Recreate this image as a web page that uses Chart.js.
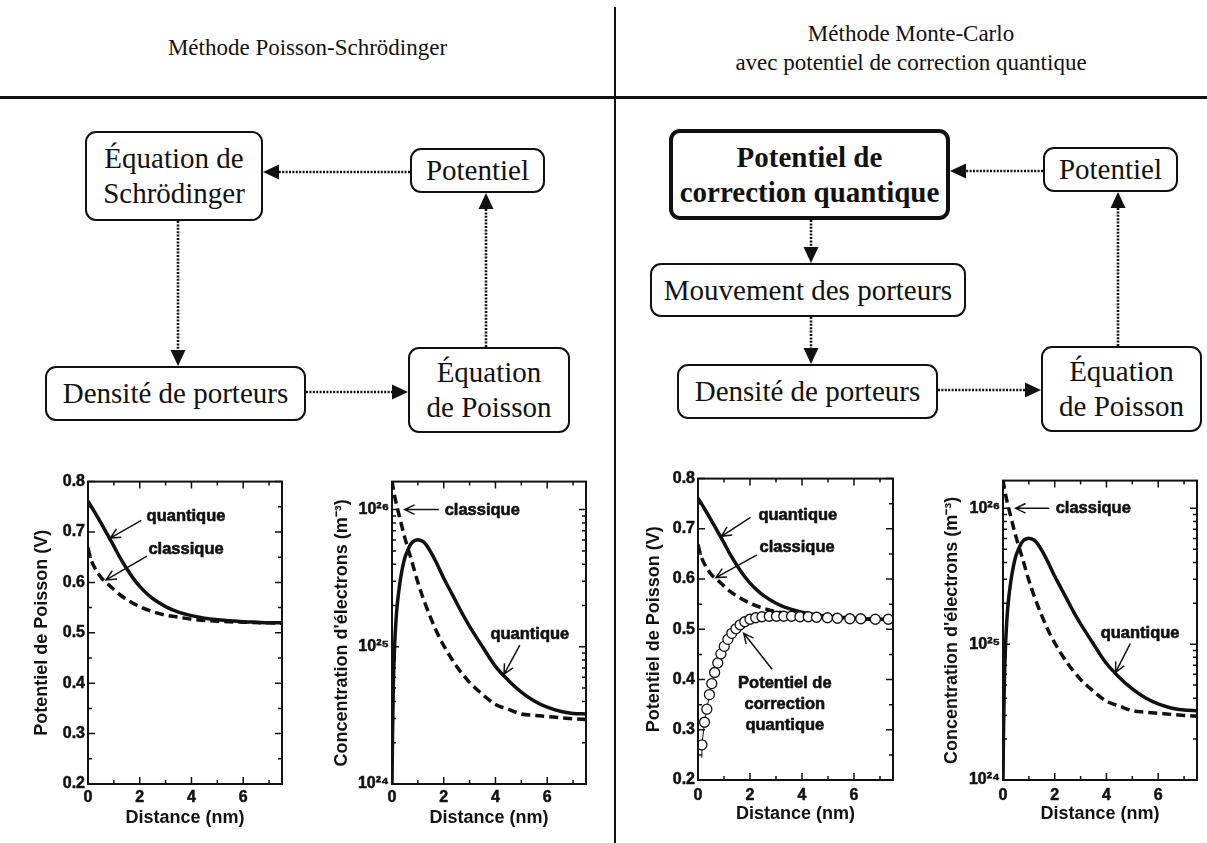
<!DOCTYPE html>
<html lang="fr">
<head>
<meta charset="UTF-8">
<title>Poisson-Schrödinger / Monte-Carlo</title>
<script src="https://cdn.jsdelivr.net/npm/chart.js"></script>
<style>
    * { margin: 0; padding: 0; box-sizing: border-box; }

    body {
        width: 1207px;
        height: 843px;
        position: relative;
        overflow: hidden;
        background: #fff;
        color: #111;
        font-family: 'Liberation Serif', 'Times New Roman', serif;
    }

    /* header */
    .title {
        position: absolute;
        font-size: 23px;
        line-height: 29px;
        text-align: center;
    }
    .hline { position: absolute; left: 0; top: 96px; width: 1207px; height: 3px; background: #111; }
    .vline { position: absolute; left: 614px; top: 7px; width: 2px; height: 836px; background: #111; }

    /* flowchart boxes */
    .box {
        position: absolute;
        display: flex;
        align-items: center;
        justify-content: center;
        text-align: center;
        border: 2px solid #111;
        border-radius: 11px;
        font-size: 29px;
        line-height: 35px;
        background: #fff;
    }
    .box.bold { border-width: 4px; font-weight: bold; }

    #arrows { position: absolute; left: 0; top: 0; }
    .chart { position: absolute; }
</style>
</head>
<body>
    <div class="vline"></div>
    <div class="hline"></div>

    <div class="title" style="left:0; width:615px; top:33px;">Méthode Poisson-Schrödinger</div>
    <div class="title" style="left:615px; width:592px; top:19px;">Méthode Monte-Carlo<br>avec potentiel de correction quantique</div>

    <!-- left flowchart -->
    <div class="box" style="left:85px; top:131px; width:178px; height:90px;">Équation de<br>Schrödinger</div>
    <div class="box" style="left:410px; top:148px; width:135px; height:45px;">Potentiel</div>
    <div class="box" style="left:45px; top:366px; width:261px; height:55px;">Densité de porteurs</div>
    <div class="box" style="left:408px; top:347px; width:162px; height:86px;">Équation<br>de Poisson</div>

    <!-- right flowchart -->
    <div class="box bold" style="left:669px; top:129px; width:281px; height:91px;">Potentiel de<br>correction quantique</div>
    <div class="box" style="left:1043px; top:147px; width:135px; height:45px;">Potentiel</div>
    <div class="box" style="left:650px; top:263px; width:316px; height:54px;">Mouvement des porteurs</div>
    <div class="box" style="left:677px; top:364px; width:261px; height:55px;">Densité de porteurs</div>
    <div class="box" style="left:1041px; top:346px; width:161px; height:86px;">Équation<br>de Poisson</div>

    <svg id="arrows" width="1207" height="843"></svg>

    <div class="chart" style="left:20px; top:469px;"><canvas id="c1" width="272" height="374"></canvas></div>
    <div class="chart" style="left:320px; top:469px;"><canvas id="c2" width="278" height="374"></canvas></div>
    <div class="chart" style="left:632px; top:466px;"><canvas id="c3" width="271" height="377"></canvas></div>
    <div class="chart" style="left:930px; top:468px;"><canvas id="c4" width="277" height="375"></canvas></div>

<script>
// ---- data ----
// Poisson potential (V) vs distance (nm)
const xQuant = [0, 0.25, 0.5, 0.75, 1.0, 1.25, 1.5, 1.75, 2.0, 2.25, 2.5, 3.0, 3.5, 4.0, 4.5, 5.0, 5.5, 6.0, 6.5, 7.0, 7.5];
const vQuant = [0.761, 0.740, 0.718, 0.695, 0.672, 0.648, 0.627, 0.608, 0.592, 0.579, 0.568, 0.552, 0.541, 0.534, 0.529, 0.526, 0.524, 0.522, 0.521, 0.520, 0.520];

const xClass = [0, 0.1, 0.25, 0.5, 0.75, 1.0, 1.25, 1.5, 2.0, 2.5, 3.0, 3.5, 4.0, 5.0, 6.0, 7.5];
const vClass = [0.669, 0.648, 0.630, 0.610, 0.598, 0.586, 0.575, 0.566, 0.552, 0.542, 0.535, 0.531, 0.527, 0.523, 0.521, 0.519];

// quantum correction potential (Monte-Carlo, circles)
const xCorr = [0.13, 0.15, 0.25, 0.34, 0.44, 0.53, 0.64, 0.76, 0.88, 1.01, 1.15, 1.30, 1.46, 1.62, 1.80, 2.00, 2.22, 2.46, 2.74, 3.02, 3.30, 3.60, 3.92, 4.24, 4.56, 4.98, 5.36, 5.84, 6.26, 6.82, 7.32];
const vCorr = [0.245, 0.270, 0.315, 0.341, 0.370, 0.392, 0.414, 0.433, 0.451, 0.466, 0.480, 0.492, 0.501, 0.509, 0.515, 0.520, 0.523, 0.525, 0.526, 0.526, 0.526, 0.526, 0.525, 0.525, 0.524, 0.523, 0.522, 0.521, 0.521, 0.520, 0.520];

// electron concentration (m^-3) vs distance (nm)
const xNQuant = [0, 0.02, 0.05, 0.1, 0.15, 0.2, 0.3, 0.4, 0.5, 0.6, 0.7, 0.8, 0.9, 1.0, 1.1, 1.25, 1.5, 1.75, 2.0, 2.25, 2.5, 2.75, 3.0, 3.5, 4.0, 4.5, 5.0, 5.5, 6.0, 6.5, 7.0, 7.5];
const nQuant = [1.0e24, 2.24e24, 5.0e24, 1.0e25, 1.51e25, 2.0e25, 2.88e25, 3.72e25, 4.47e25, 5.0e25, 5.5e25, 5.82e25, 5.96e25, 6.03e25, 5.96e25, 5.75e25, 4.9e25, 3.98e25, 3.16e25, 2.57e25, 2.09e25, 1.70e25, 1.41e25, 1.0e25, 7.2e24, 5.69e24, 4.68e24, 4.03e24, 3.63e24, 3.39e24, 3.27e24, 3.24e24];

const xNClass = [0, 0.1, 0.25, 0.5, 0.75, 1.0, 1.25, 1.5, 1.75, 2.0, 2.5, 3.0, 3.5, 4.0, 4.5, 5.0, 5.5, 6.0, 7.0, 7.5];
const nClass = [1.62e26, 1.26e26, 9.5e25, 6.2e25, 4.3e25, 2.95e25, 2.14e25, 1.62e25, 1.26e25, 1.02e25, 7.2e24, 5.5e24, 4.5e24, 3.8e24, 3.5e24, 3.24e24, 3.16e24, 3.1e24, 2.99e24, 2.95e24];

// ticks
const xTicks = [0, 2, 4, 6];
const xMinor = [1, 3, 5, 7];
const vTicks = [0.2, 0.3, 0.4, 0.5, 0.6, 0.7, 0.8];
const vMinor = [0.25, 0.35, 0.45, 0.55, 0.65, 0.75];
const nTicks = [1e24, 1e25, 1e26];
const nMinor = [2e24, 3e24, 4e24, 5e24, 6e24, 7e24, 8e24, 9e24, 2e25, 3e25, 4e25, 5e25, 6e25, 7e25, 8e25, 9e25];

// ---- flowchart arrows (dotted, filled head) ----
const svg = document.getElementById('arrows');
function flowArrow(x1, y1, x2, y2) {
    const ns = 'http://www.w3.org/2000/svg';
    const len = Math.hypot(x2 - x1, y2 - y1);
    const ux = (x2 - x1) / len, uy = (y2 - y1) / len;
    const hl = 16, hw = 7.5;
    const bx = x2 - ux * hl, by = y2 - uy * hl;
    const line = document.createElementNS(ns, 'line');
    line.setAttribute('x1', x1); line.setAttribute('y1', y1);
    line.setAttribute('x2', bx); line.setAttribute('y2', by);
    line.setAttribute('stroke', '#111');
    line.setAttribute('stroke-width', '2.6');
    line.setAttribute('stroke-dasharray', '2 1.4');
    svg.appendChild(line);
    const head = document.createElementNS(ns, 'polygon');
    head.setAttribute('points', [x2, y2, bx - uy * hw, by + ux * hw, bx + uy * hw, by - ux * hw].join(' '));
    head.setAttribute('fill', '#111');
    svg.appendChild(head);
}
flowArrow(410, 172, 263, 172);
flowArrow(178, 221, 178, 366);
flowArrow(306, 392, 408, 392);
flowArrow(486, 347, 486, 193);

flowArrow(1043, 171, 950, 171);
flowArrow(811, 220, 811, 263);
flowArrow(811, 317, 811, 364);
flowArrow(938, 390, 1041, 390);
flowArrow(1118, 346, 1118, 192);

// ---- charts ----
const SANS = "'Liberation Sans', Arial, sans-serif";
const sup = { '0': '⁰', '1': '¹', '2': '²', '3': '³', '4': '⁴', '5': '⁵', '6': '⁶', '7': '⁷', '8': '⁸', '9': '⁹' };
const pts = (xs, ys) => xs.map((x, i) => ({ x: x, y: ys[i] }));

// frame with inward ticks on all four sides
const framePlugin = {
    id: 'frame',
    afterDatasetsDraw(chart, args, opts) {
        const { ctx, chartArea: a, scales: { x, y } } = chart;
        ctx.save();
        ctx.strokeStyle = '#111';
        ctx.lineWidth = 1.5;
        ctx.beginPath();
        const vt = (v, l) => {
            const p = x.getPixelForValue(v);
            ctx.moveTo(p, a.bottom); ctx.lineTo(p, a.bottom - l);
            ctx.moveTo(p, a.top); ctx.lineTo(p, a.top + l);
        };
        const ht = (v, l) => {
            const p = y.getPixelForValue(v);
            ctx.moveTo(a.left, p); ctx.lineTo(a.left + l, p);
            ctx.moveTo(a.right, p); ctx.lineTo(a.right - l, p);
        };
        opts.xMajor.forEach(v => vt(v, 7));
        opts.xMinor.forEach(v => vt(v, 4));
        opts.yMajor.forEach(v => ht(v, 7));
        opts.yMinor.forEach(v => ht(v, 4));
        ctx.stroke();
        ctx.lineWidth = 2;
        ctx.strokeRect(a.left, a.top, a.right - a.left, a.bottom - a.top);
        ctx.restore();
    }
};

// text labels + thin open arrows
const notePlugin = {
    id: 'notes',
    afterDatasetsDraw(chart, args, opts) {
        const { ctx, scales: { x, y } } = chart;
        ctx.save();
        ctx.fillStyle = '#111';
        ctx.strokeStyle = '#111';
        ctx.font = 'bold 16.5px ' + SANS;
        ctx.textAlign = 'center';
        ctx.textBaseline = 'middle';
        ctx.lineWidth = 0.6;
        (opts.notes || []).forEach(n => {
            const cx = x.getPixelForValue(n.x), cy = y.getPixelForValue(n.y);
            const off = (n.lines.length - 1) * 21 / 2;
            n.lines.forEach((t, i) => {
                ctx.fillText(t, cx, cy - off + i * 21);
                ctx.strokeText(t, cx, cy - off + i * 21);
            });
        });
        ctx.lineWidth = 1.5;
        (opts.arrows || []).forEach(ar => {
            const x1 = x.getPixelForValue(ar.from[0]), y1 = y.getPixelForValue(ar.from[1]);
            const x2 = x.getPixelForValue(ar.to[0]), y2 = y.getPixelForValue(ar.to[1]);
            const ang = Math.atan2(y2 - y1, x2 - x1);
            ctx.beginPath();
            ctx.moveTo(x1, y1); ctx.lineTo(x2, y2);
            ctx.moveTo(x2 - 11 * Math.cos(ang - 0.45), y2 - 11 * Math.sin(ang - 0.45));
            ctx.lineTo(x2, y2);
            ctx.lineTo(x2 - 11 * Math.cos(ang + 0.45), y2 - 11 * Math.sin(ang + 0.45));
            ctx.stroke();
        });
        ctx.restore();
    }
};

function makeChart(id, o) {
    const isLog = o.log;
    return new Chart(document.getElementById(id), {
        type: 'scatter',
        data: { datasets: o.datasets },
        options: {
            responsive: false,
            animation: false,
            layout: { padding: { top: 10, right: o.right, left: 0, bottom: 0 } },
            plugins: {
                legend: { display: false },
                tooltip: { enabled: false },
                frame: {
                    xMajor: xTicks, xMinor: xMinor,
                    yMajor: isLog ? nTicks : vTicks, yMinor: isLog ? nMinor : vMinor
                },
                notes: { notes: o.notes, arrows: o.arrows }
            },
            scales: {
                x: {
                    type: 'linear', min: 0, max: 7.5,
                    grid: { display: false, drawTicks: false },
                    border: { display: false },
                    afterBuildTicks: s => { s.ticks = xTicks.map(v => ({ value: v })); },
                    afterFit: s => { s.height = o.xHeight; },
                    ticks: {
                        color: '#111', padding: o.xPad, maxRotation: 0,
                        textStrokeColor: '#111', textStrokeWidth: 0.5,
                        font: { family: SANS, size: 16, weight: 'bold' },
                        callback: v => String(v)
                    },
                    title: {
                        display: true, text: 'Distance (nm)', color: '#111',
                        font: { family: SANS, size: 18, weight: 'bold' },
                        padding: { top: 0, bottom: o.xTitlePad }
                    }
                },
                y: {
                    type: isLog ? 'logarithmic' : 'linear',
                    min: isLog ? 1e24 : 0.2,
                    max: isLog ? 1.6e26 : 0.8,
                    grid: { display: false, drawTicks: false },
                    border: { display: false },
                    afterBuildTicks: s => { s.ticks = (isLog ? nTicks : vTicks).map(v => ({ value: v })); },
                    afterFit: s => { s.width = o.yWidth; },
                    ticks: {
                        color: '#111', padding: 3,
                        textStrokeColor: '#111', textStrokeWidth: 0.5,
                        font: { family: SANS, size: 16, weight: 'bold' },
                        callback: v => isLog
                            ? '10' + String(Math.round(Math.log10(v))).split('').map(c => sup[c]).join('')
                            : v.toFixed(1)
                    },
                    title: {
                        display: true, color: '#111',
                        text: isLog ? "Concentration d'électrons (m⁻³)" : 'Potentiel de Poisson (V)',
                        font: { family: SANS, size: 18, weight: 'bold' },
                        padding: { top: 11, bottom: 0 }
                    }
                }
            }
        },
        plugins: [framePlugin, notePlugin]
    });
}

const lineStyle = { showLine: true, pointRadius: 0, borderColor: '#111', borderWidth: 3.5, cubicInterpolationMode: 'monotone', fill: false };

function potentialSets(withCorr) {
    const sets = [
        Object.assign({ label: 'quantique', data: pts(xQuant, vQuant), order: 2 }, lineStyle),
        Object.assign({ label: 'classique', data: pts(xClass, vClass), borderDash: [9, 5], order: 3 }, lineStyle)
    ];
    if (withCorr) {
        sets.push({
            label: 'Potentiel de correction quantique',
            data: pts(xCorr, vCorr),
            showLine: true, borderColor: '#111', borderWidth: 1,
            pointRadius: xCorr.map((_, i) => i === 0 ? 0 : 5),
            pointBackgroundColor: '#fff', pointBorderColor: '#111', pointBorderWidth: 1.3,
            order: 1
        });
    }
    return sets;
}

function concSets() {
    return [
        Object.assign({ label: 'quantique', data: pts(xNQuant, nQuant), order: 1 }, lineStyle),
        Object.assign({ label: 'classique', data: pts(xNClass, nClass), borderDash: [9, 5], order: 2 }, lineStyle)
    ];
}

makeChart('c1', {
    log: false, yWidth: 68, xHeight: 59, right: 10, xPad: 4, xTitlePad: 14,
    datasets: potentialSets(false),
    notes: [
        { lines: ['quantique'], x: 3.79, y: 0.730 },
        { lines: ['classique'], x: 3.79, y: 0.665 }
    ],
    arrows: [
        { from: [2.06, 0.723], to: [0.86, 0.688] },
        { from: [2.28, 0.652], to: [0.70, 0.605] }
    ]
});

makeChart('c2', {
    log: true, yWidth: 72, xHeight: 59, right: 12, xPad: 4, xTitlePad: 14,
    datasets: concSets(),
    notes: [
        { lines: ['classique'], x: 3.49, y: 9.8e25 },
        { lines: ['quantique'], x: 5.33, y: 1.23e25 }
    ],
    arrows: [
        { from: [1.81, 1e26], to: [0.49, 1e26] },
        { from: [4.94, 1.03e25], to: [4.33, 6.3e24] }
    ]
});

makeChart('c3', {
    log: false, yWidth: 66, xHeight: 63, right: 10, xPad: 6, xTitlePad: 18,
    datasets: potentialSets(true),
    notes: [
        { lines: ['quantique'], x: 3.84, y: 0.727 },
        { lines: ['classique'], x: 3.81, y: 0.662 },
        { lines: ['Potentiel de', 'correction', 'quantique'], x: 3.34, y: 0.351 }
    ],
    arrows: [
        { from: [2.02, 0.723], to: [0.90, 0.685] },
        { from: [2.27, 0.648], to: [0.69, 0.603] },
        { from: [2.85, 0.4205], to: [1.76, 0.492] }
    ]
});

makeChart('c4', {
    log: true, yWidth: 73, xHeight: 63, right: 10, xPad: 6, xTitlePad: 18,
    datasets: concSets(),
    notes: [
        { lines: ['classique'], x: 3.49, y: 1e26 },
        { lines: ['quantique'], x: 5.30, y: 1.2e25 }
    ],
    arrows: [
        { from: [1.79, 1e26], to: [0.49, 1e26] },
        { from: [4.92, 1.01e25], to: [4.35, 6.2e24] }
    ]
});
</script>
</body>
</html>
